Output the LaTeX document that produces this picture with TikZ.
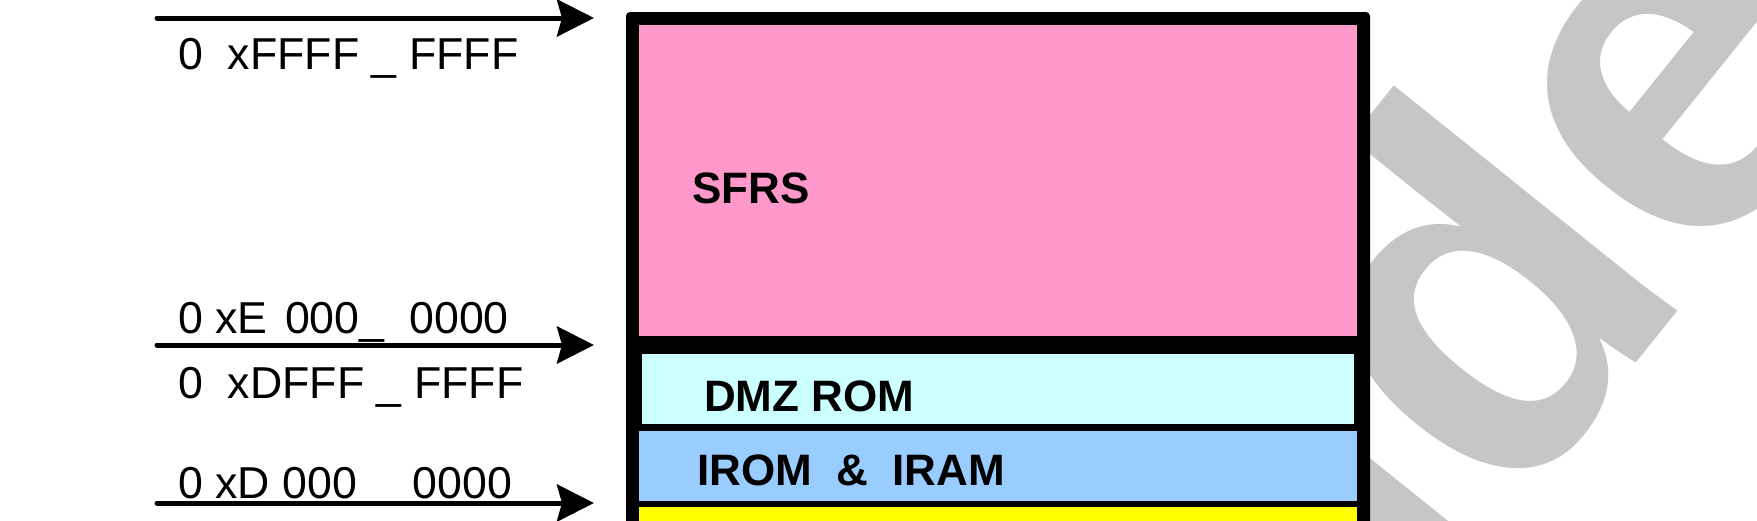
\documentclass[tikz,border=0pt]{standalone}
\usepackage{fontspec}
\setmainfont{Liberation Sans}
\usetikzlibrary{arrows.meta}
\definecolor{sfrpink}{HTML}{FF99CC}
\definecolor{dmzcyan}{HTML}{CCFFFF}
\definecolor{iromblue}{HTML}{99CCFF}
\definecolor{extyellow}{HTML}{FFFF00}
\definecolor{wmgray}{HTML}{C6C6C6}
\tikzset{
  addrarrow/.style={line width=5pt, line cap=round, -{Stealth[length=37pt,width=37pt,inset=5pt]}},
  addrlabel/.style={anchor=base west, inner sep=0pt, font=\fontsize{44.7}{50}\selectfont},
  regionlabel/.style={anchor=base west, inner sep=0pt, font=\fontsize{44}{50}\selectfont\bfseries},
  watermark/.style={anchor=base west, inner sep=0pt, text=wmgray, rotate=51.25, font=\fontsize{500}{500}\selectfont\bfseries}
}
\begin{document}
\begin{tikzpicture}[x=1pt,y=-1pt]
\useasboundingbox (0,0) rectangle (1757,520);
\clip (0,0) rectangle (1757,520);
\fill[white] (0,0) rectangle (1757,520);
% watermark
\node[watermark] (wm) at (1420,632) {ide};
% memory map box
\fill[black, rounded corners=4pt] (626,12) rectangle (1370,560);
\fill[sfrpink] (639,25) rectangle (1357,336);
\fill[dmzcyan] (642,354) rectangle (1354,424);
\fill[iromblue] (639,431) rectangle (1357,501);
\fill[extyellow] (639,507) rectangle (1357,560);
% region labels
\node[regionlabel] (sfrs) at (692,203) {SFRS};
\node[regionlabel] (dmz) at (704,411) {DMZ ROM};
\node[regionlabel] (irom) at (697,485) {IROM\ \ \&\ \ IRAM};
% address arrows
\coordinate (a1s) at (157,18);  \coordinate (a1e) at (594,18);
\coordinate (a2s) at (157,345); \coordinate (a2e) at (594,345);
\coordinate (a3s) at (157,503); \coordinate (a3e) at (594,503);
\draw[addrarrow] (a1s) -- (a1e);
\draw[addrarrow] (a2s) -- (a2e);
\draw[addrarrow] (a3s) -- (a3e);
% address labels
\node[addrlabel] (l1) at (178,69) {0\ \ xFFFF \_ FFFF};
\node[addrlabel] (l2) at (178,333) {0 xE \hspace{5pt}000\_\ \ 0000};
\node[addrlabel] (l3) at (178,398) {0\ \ xDFFF \_ FFFF};
\node[addrlabel] (l4) at (178,498) {0 xD 000\ \ \ \ \hspace{6pt}0000};
\end{tikzpicture}
\end{document}
